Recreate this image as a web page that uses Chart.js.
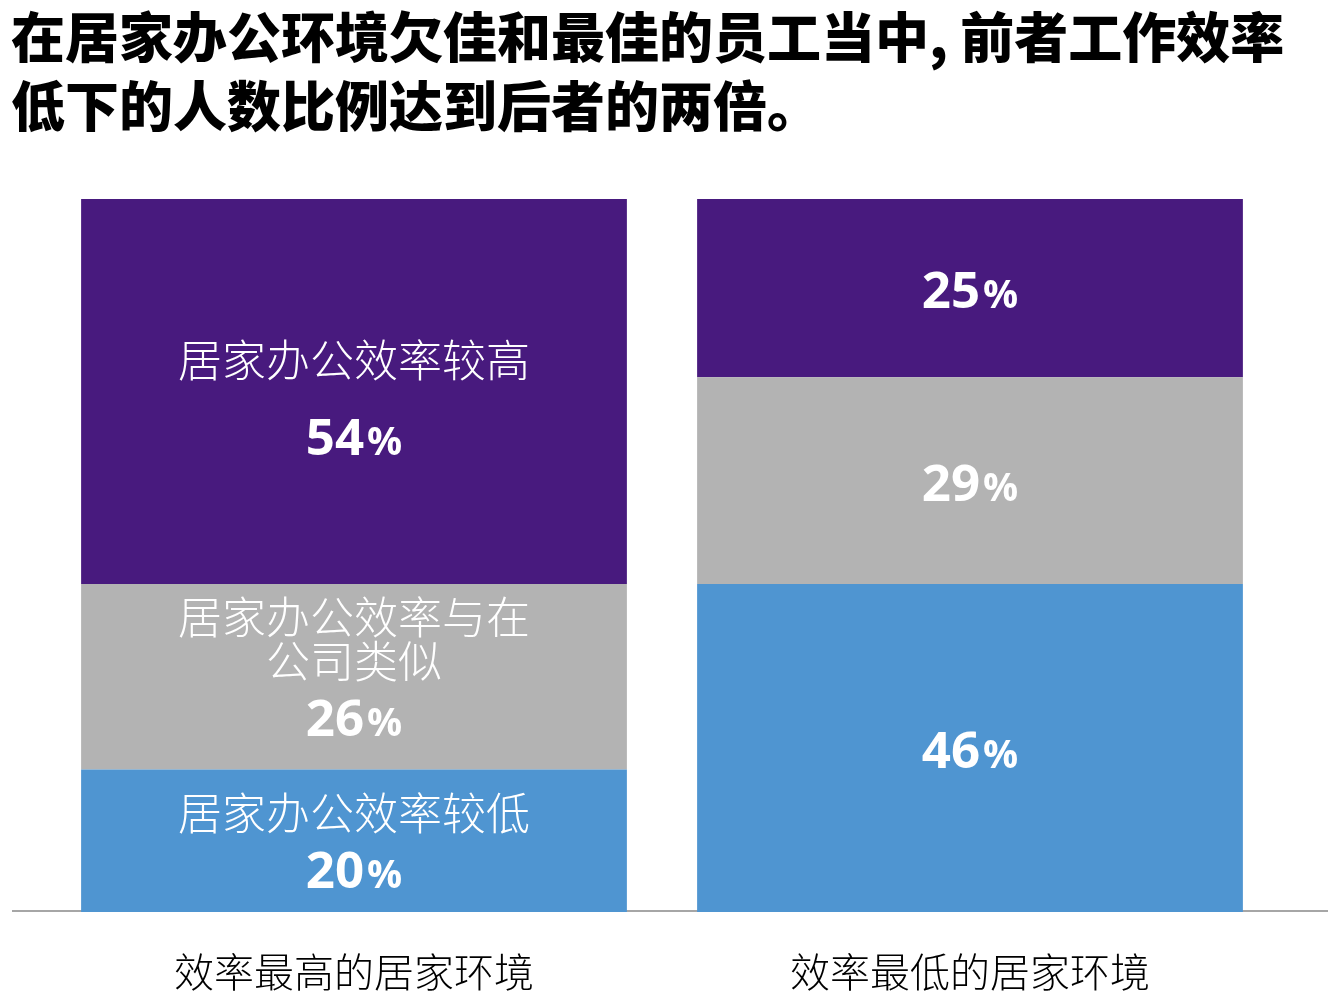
<!DOCTYPE html>
<html>
<head>
<meta charset="utf-8">
<script src="https://cdn.jsdelivr.net/npm/chart.js@4/dist/chart.umd.min.js"></script>
<style>
  html, body { margin: 0; padding: 0; background: #fff; overflow: hidden; }
  #wrap { position: relative; width: 1328px; height: 1002px; overflow: hidden; }
  #title {
    position: absolute; left: 11px; top: 0px;
    font-family: "Noto Sans CJK SC", sans-serif; font-weight: 900;
    font-size: 54px; line-height: 69px; color: #000;
  }
  canvas { position: absolute; left: 0; top: 0; }
</style>
</head>
<body>
<div id="wrap">
  <div id="title">在居家办公环境欠佳和最佳的员工当中, 前者工作效率<br>低下的人数比例达到后者的两倍。</div>
  <canvas id="chart" width="1328" height="1032"></canvas>
</div>
<script>
// categories (x axis)
const categories = ['效率最高的居家环境', '效率最低的居家环境'];

// series, stacked bottom to top
const seriesNames = ['居家办公效率较低', '居家办公效率与在公司类似', '居家办公效率较高'];
const lowValues = [20, 46];
const sameValues = [26, 29];
const highValues = [54, 25];

// text shown inside segments of the first bar only
const segmentLabels = [
    ['居家办公效率较低'],
    ['居家办公效率与在', '公司类似'],
    ['居家办公效率较高']
];

const colors = ['#4F95D1', '#B3B3B3', '#481A7E'];

// ============================================
// PLUGINS
// ============================================

const baselinePlugin = {
    id: 'baseline',
    beforeDatasetsDraw(chart) {
        const ctx = chart.ctx;
        const y = chart.scales.y.getPixelForValue(0);
        ctx.save();
        ctx.strokeStyle = '#A6A6A6';
        ctx.lineWidth = 2;
        ctx.beginPath();
        ctx.moveTo(12, y - 1);
        ctx.lineTo(chart.width, y - 1);
        ctx.stroke();
        ctx.restore();
    }
};

function drawPercent(ctx, value, x, y) {
    const numFont = 'bold 51px "Open Sans", sans-serif';
    const pctFont = 'bold 39px "Open Sans", sans-serif';
    const num = String(value);
    ctx.font = numFont;
    const w1 = ctx.measureText(num).width;
    ctx.font = pctFont;
    const w2 = ctx.measureText('%').width;
    const start = x - (w1 + w2 + 3) / 2;
    ctx.textAlign = 'left';
    ctx.textBaseline = 'alphabetic';
    ctx.font = numFont;
    ctx.fillText(num, start, y + 20);
    ctx.font = pctFont;
    ctx.fillText('%', start + w1 + 3, y + 20);
}

const segmentTextPlugin = {
    id: 'segmentText',
    afterDatasetsDraw(chart) {
        const ctx = chart.ctx;
        const leftShift = [0, -10, 6];
        ctx.save();
        ctx.fillStyle = '#fff';
        chart.data.datasets.forEach((ds, di) => {
            const meta = chart.getDatasetMeta(di);
            meta.data.forEach((bar, i) => {
                const props = bar.getProps(['x', 'y', 'base'], true);
                let cy = (props.y + props.base) / 2;
                const names = i === 0 ? segmentLabels[di] : [];
                if (i === 0) cy += leftShift[di];
                const lines = names.length;
                const nameGap = 44;
                const numGap = di === 2 ? 75 : 55;
                const blockH = (lines > 0 ? (lines - 1) * nameGap + numGap : 0);
                let y = cy - blockH / 2;
                ctx.font = '300 44px "Noto Sans CJK SC", sans-serif';
                ctx.textAlign = 'center';
                ctx.textBaseline = 'middle';
                names.forEach((t, k) => {
                    ctx.fillText(t, props.x, y + k * nameGap);
                });
                if (lines > 0) y += (lines - 1) * nameGap + numGap;
                drawPercent(ctx, ds.data[i], props.x, y);
            });
        });
        ctx.restore();
    }
};

// ============================================
// CHART
// ============================================

new Chart(document.getElementById('chart'), {
    type: 'bar',
    data: {
        labels: categories,
        datasets: [
            { label: seriesNames[0], data: lowValues, backgroundColor: colors[0] },
            { label: seriesNames[1], data: sameValues, backgroundColor: colors[1] },
            { label: seriesNames[2], data: highValues, backgroundColor: colors[2] }
        ]
    },
    options: {
        responsive: false,
        animation: false,
        devicePixelRatio: 1,
        categoryPercentage: 0.886,
        barPercentage: 1,
        layout: { padding: { top: 199, left: 46, right: 50, bottom: 0 } },
        plugins: {
            legend: { display: false },
            tooltip: { enabled: false },
            title: { display: false }
        },
        scales: {
            x: {
                stacked: true,
                grid: { display: false, drawTicks: false },
                border: { display: false },
                ticks: {
                    color: '#000',
                    padding: 36,
                    font: { family: '"Noto Sans CJK SC", sans-serif', size: 40, weight: 300 }
                }
            },
            y: {
                stacked: true,
                display: false,
                min: 0,
                max: 100
            }
        }
    },
    plugins: [baselinePlugin, segmentTextPlugin]
});
</script>
</body>
</html>
